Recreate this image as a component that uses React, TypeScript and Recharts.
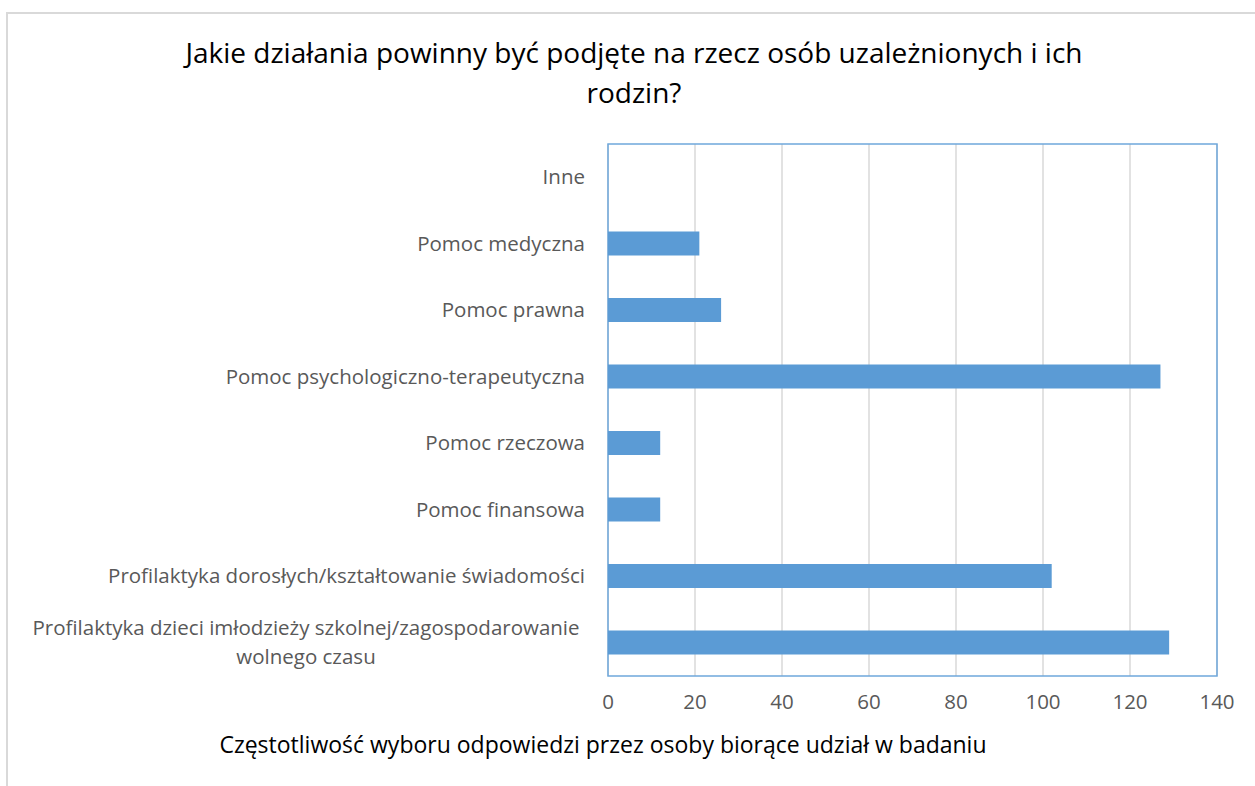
import React from 'react';
import { BarChart, Bar, XAxis, YAxis, CartesianGrid, ReferenceArea } from 'recharts';

const CATEGORIES = [
  'Inne',
  'Pomoc medyczna',
  'Pomoc prawna',
  'Pomoc psychologiczno-terapeutyczna',
  'Pomoc rzeczowa',
  'Pomoc finansowa',
  'Profilaktyka dorosłych/kształtowanie świadomości',
  'Profilaktyka dzieci imłodzieży szkolnej/zagospodarowanie wolnego czasu',
];
const COUNTS = [0, 21, 26, 127, 12, 12, 102, 129];
const X_TICKS = [0, 20, 40, 60, 80, 100, 120, 140];

const TITLE_LINES = ['Jakie działania powinny być podjęte na rzecz osób uzależnionych i ich', 'rodzin?'];
const X_TITLE = 'Częstotliwość wyboru odpowiedzi przez osoby biorące udział w badaniu';

const FONT = '"Open Sans", sans-serif';
const BAR_COLOR = '#5b9bd5';
const LABEL_SIZE = 20.5;

const data = CATEGORIES.map((name, i) => ({ name, value: COUNTS[i] }));

// crude word wrap, long labels break onto two lines centred on each other
const wrap = (text: string, max: number) => {
  const lines: string[] = [];
  let cur = '';
  text.split(' ').forEach(w => {
    if (cur && (cur + ' ' + w).length > max) {
      lines.push(cur);
      cur = w;
    } else {
      cur = cur ? cur + ' ' + w : w;
    }
  });
  if (cur) lines.push(cur);
  return lines;
};

const CategoryTick = (props: any) => {
  const { x, y, payload } = props;
  const lines = wrap(payload.value, 57);
  const lineH = 29;
  if (lines.length === 1) {
    return (
      <text x={x - 15} y={y} dy={7} textAnchor="end" fill="#595959" fontSize={LABEL_SIZE} fontFamily={FONT}>
        {lines[0]}
      </text>
    );
  }
  const startY = y - ((lines.length - 1) * lineH) / 2;
  return (
    <text x={306} y={startY} textAnchor="middle" fill="#595959" fontSize={LABEL_SIZE} fontFamily={FONT}>
      {lines.map((l, i) => (
        <tspan key={i} x={306} dy={i === 0 ? 7 : lineH}>{l}</tspan>
      ))}
    </text>
  );
};

export default function App() {
  return (
    <div style={{ position: 'absolute', left: 0, top: 0, width: 1255, height: 786, background: '#fff', overflow: 'hidden' }}>
      {/* outer chart frame, cut off at the right and bottom */}
      <div style={{ position: 'absolute', left: 6, top: 12, width: 1300, height: 900, border: '2px solid #d9d9d9' }} />
      <div style={{ position: 'absolute', left: 0, top: 0 }}>
        <BarChart
          width={1255}
          height={786}
          data={data}
          layout="vertical"
          margin={{ top: 144, right: 38, bottom: 80, left: 0 }}
          barSize={24}
        >
          <text x={634} y={63} textAnchor="middle" fontSize={28} fill="#000" fontFamily={FONT}>
            {TITLE_LINES[0]}
          </text>
          <text x={634} y={103} textAnchor="middle" fontSize={28} fill="#000" fontFamily={FONT}>
            {TITLE_LINES[1]}
          </text>
          <CartesianGrid horizontal={false} stroke="#d9d9d9" strokeWidth={1.5} />
          <XAxis
            type="number"
            domain={[0, 140]}
            ticks={X_TICKS}
            axisLine={false}
            tickLine={false}
            height={30}
            tick={{ fill: '#595959', fontSize: LABEL_SIZE, fontFamily: FONT }}
            tickMargin={12}
          />
          <YAxis
            type="category"
            dataKey="name"
            width={608}
            axisLine={false}
            tickLine={false}
            tick={<CategoryTick />}
            interval={0}
          />
          <ReferenceArea x1={0} x2={140} fill="none" stroke="#6fa8dc" strokeWidth={1.5} ifOverflow="visible" />
          <Bar dataKey="value" fill={BAR_COLOR} isAnimationActive={false} />
          <text x={603} y={753} textAnchor="middle" fontSize={23} fill="#000" fontFamily={FONT}>
            {X_TITLE}
          </text>
        </BarChart>
      </div>
    </div>
  );
}
